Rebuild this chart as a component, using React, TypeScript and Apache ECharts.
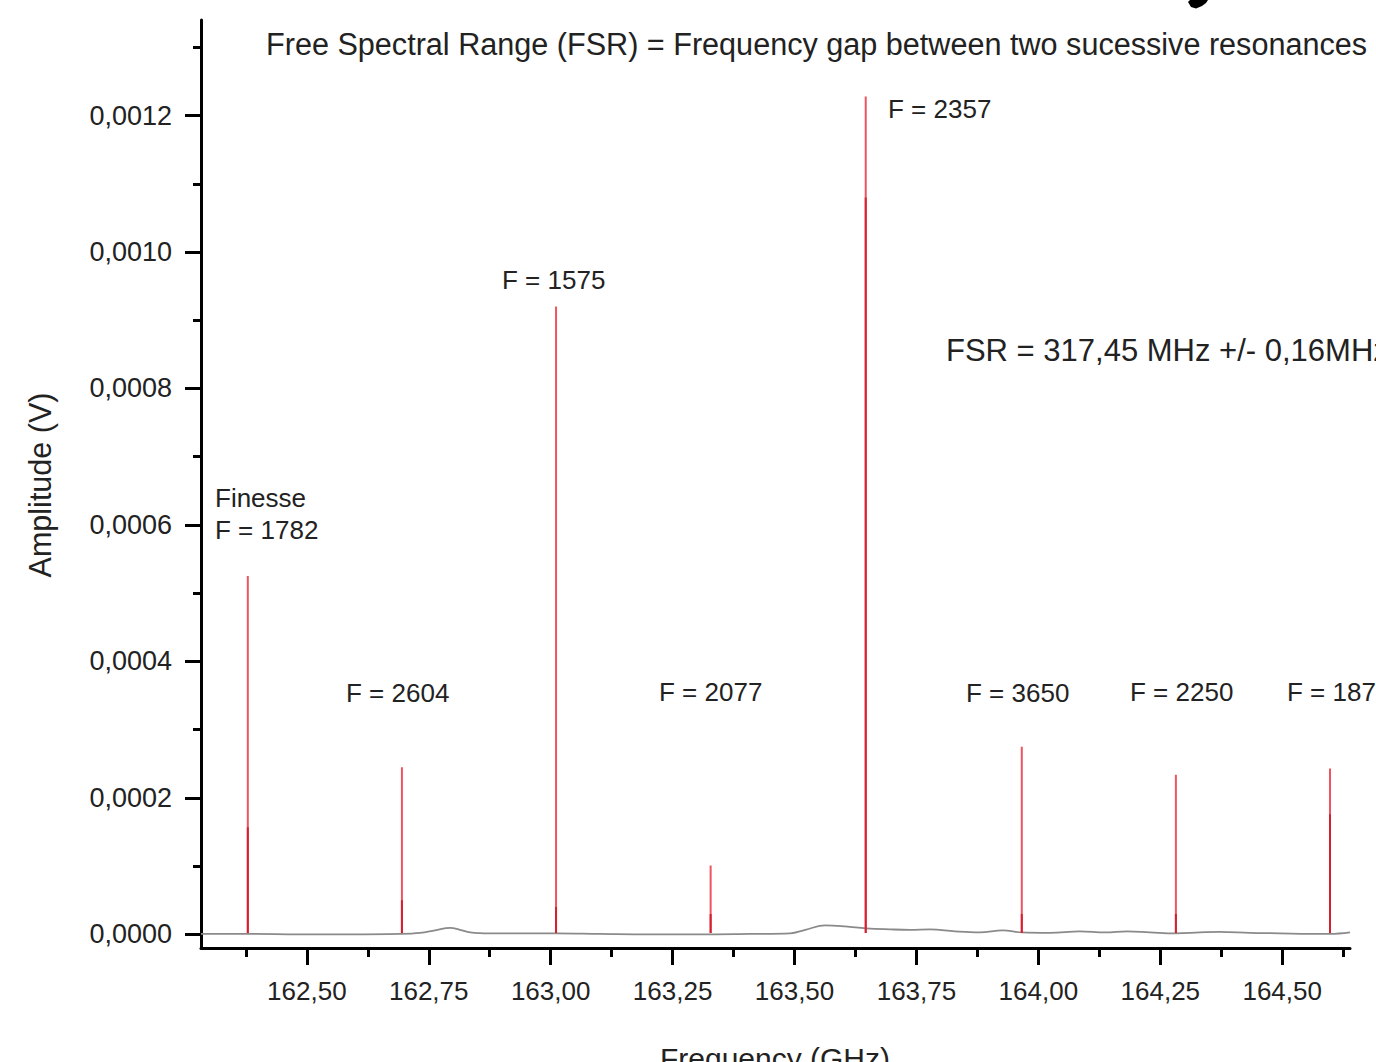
import React, { useEffect, useRef } from "react";
import * as echarts from "echarts";

// ---- data ----
const peakFreq = [162.379, 162.695, 163.011, 163.328, 163.646, 163.966, 164.282, 164.598];
const peakAmp = [0.000525, 0.000245, 0.00092, 0.000101, 0.001228, 0.000275, 0.000234, 0.000243];
const peakCoreAmp = [0.000157, 0.00005, 0.00004, 0.00003, 0.00108, 0.00003, 0.00003, 0.000176];
const peakBase = 0.000002;

const baseFreq = [
  162.283, 162.383, 162.486, 162.589, 162.691, 162.732, 162.763, 162.794, 162.814, 162.835,
  162.876, 162.937, 163.011, 163.101, 163.204, 163.306, 163.409, 163.491, 163.522, 163.563,
  163.604, 163.647, 163.696, 163.737, 163.778, 163.829, 163.88, 163.927, 163.966, 164.024,
  164.085, 164.137, 164.182, 164.229, 164.282, 164.331, 164.372, 164.434, 164.495, 164.557,
  164.598, 164.639,
];
const baseAmp = [
  0.0000007, 0.0000007, 0.0, 0.0, 0.0000007, 0.0000022, 0.0000059, 0.0000095, 0.0000066, 0.0000029,
  0.0000015, 0.0000015, 0.0000015, 0.0000007, 0.0, 0.0, 0.0000007, 0.0000015, 0.0000066, 0.0000132,
  0.0000117, 0.0000088, 0.0000073, 0.0000066, 0.0000073, 0.0000044, 0.0000029, 0.0000059, 0.0000029, 0.0000022,
  0.0000044, 0.0000029, 0.0000044, 0.0000029, 0.0000015, 0.0000029, 0.0000037, 0.0000022, 0.0000015, 0.0000007,
  0.0000007, 0.0000029,
];

const yMajorTicks = [0, 0.0002, 0.0004, 0.0006, 0.0008, 0.001, 0.0012];
const yMinorTicks = [0.0001, 0.0003, 0.0005, 0.0007, 0.0009, 0.0011, 0.0013];
const xMajorTicks = [162.5, 162.75, 163.0, 163.25, 163.5, 163.75, 164.0, 164.25, 164.5];
const xMinorTicks = [162.375, 162.625, 162.875, 163.125, 163.375, 163.625, 163.875, 164.125, 164.375, 164.625];

const annotations = [
  { text: "Finesse", x: 215, y: 498, size: 26 },
  { text: "F = 1782", x: 215, y: 530, size: 26 },
  { text: "F = 2604", x: 346, y: 693, size: 26 },
  { text: "F = 1575", x: 502, y: 280, size: 26 },
  { text: "F = 2077", x: 659, y: 692, size: 26 },
  { text: "F = 2357", x: 888, y: 109, size: 26 },
  { text: "F = 3650", x: 966, y: 693, size: 26 },
  { text: "F = 2250", x: 1130, y: 692, size: 26 },
  { text: "F = 1870", x: 1287, y: 692, size: 26 },
  { text: "FSR = 317,45 MHz +/- 0,16MHz", x: 946, y: 350, size: 31 },
];
const titleText = "Free Spectral Range (FSR) = Frequency gap between two sucessive resonances";

const FONT = "'Liberation Sans', Arial, sans-serif";
const TEXT_COLOR = "#222";

export default function App() {
  const ref = useRef<HTMLDivElement>(null);
  useEffect(() => {
    if (!ref.current) return;
    const chart = echarts.init(ref.current, undefined, { renderer: "svg" });

    const peakData: any[] = [];
    const coreData: any[] = [];
    peakFreq.forEach((f, i) => {
      peakData.push([f, peakBase], [f, peakAmp[i]], [f, peakBase], "-");
      coreData.push([f, peakBase], [f, peakCoreAmp[i]], [f, peakBase], "-");
    });
    const baseData = baseFreq.map((f, i) => [f, baseAmp[i]]);

    const xMin = 162.283;
    const xMax = 164.639;
    const yMin = -0.00002;
    const yMax = 0.00134;

    const axisLineStyle = { color: "#000", width: 3 };

    chart.setOption({
      animation: false,
      backgroundColor: "#fff",
      grid: { left: 201, right: 26, top: 20, bottom: 114, containLabel: false },
      xAxis: [
        {
          type: "value",
          min: xMin,
          max: xMax,
          axisLine: { show: true, onZero: false, lineStyle: axisLineStyle },
          axisTick: { show: true, inside: false, length: 17, lineStyle: { color: "#000", width: 3 }, customValues: xMajorTicks },
          axisLabel: {
            show: true,
            customValues: xMajorTicks,
            margin: 30,
            fontFamily: FONT,
            fontSize: 26,
            color: TEXT_COLOR,
            formatter: (v: number) => v.toFixed(2).replace(".", ","),
          },
          splitLine: { show: false },
        },
        {
          type: "value",
          min: xMin,
          max: xMax,
          position: "bottom",
          axisLine: { show: false, onZero: false },
          axisTick: { show: true, inside: false, length: 9, lineStyle: { color: "#000", width: 3 }, customValues: xMinorTicks },
          axisLabel: { show: false },
          splitLine: { show: false },
        },
      ],
      yAxis: [
        {
          type: "value",
          min: yMin,
          max: yMax,
          axisLine: { show: true, onZero: false, lineStyle: axisLineStyle },
          axisTick: { show: true, inside: false, length: 16, lineStyle: { color: "#000", width: 3 }, customValues: yMajorTicks },
          axisLabel: {
            show: true,
            customValues: yMajorTicks,
            margin: 29,
            fontFamily: FONT,
            fontSize: 27,
            color: TEXT_COLOR,
            formatter: (v: number) => v.toFixed(4).replace(".", ","),
          },
          splitLine: { show: false },
        },
        {
          type: "value",
          min: yMin,
          max: yMax,
          position: "left",
          axisLine: { show: false, onZero: false },
          axisTick: { show: true, inside: false, length: 8, lineStyle: { color: "#000", width: 3 }, customValues: yMinorTicks },
          axisLabel: { show: false },
          splitLine: { show: false },
        },
      ],
      series: [
        {
          type: "line",
          name: "baseline",
          data: baseData,
          showSymbol: false,
          symbol: "none",
          smooth: 0.4,
          lineStyle: { color: "#8a8a8a", width: 1.8 },
          z: 2,
        },
        {
          type: "line",
          name: "peaks",
          data: peakData,
          showSymbol: false,
          symbol: "none",
          connectNulls: false,
          lineStyle: { color: "#ef5560", width: 2 },
          z: 3,
        },
        {
          type: "line",
          name: "peaksCore",
          data: coreData,
          showSymbol: false,
          symbol: "none",
          connectNulls: false,
          lineStyle: { color: "#d52030", width: 2 },
          z: 4,
        },
      ],
      graphic: [
        ...annotations.map((a) => ({
          type: "text",
          x: a.x,
          y: a.y,
          style: {
            text: a.text,
            fontFamily: FONT,
            fontSize: a.size,
            fill: TEXT_COLOR,
            textAlign: "left",
            textVerticalAlign: "middle",
          },
        })),
        {
          type: "text",
          x: 266,
          y: 44,
          style: {
            text: titleText,
            fontFamily: FONT,
            fontSize: 30.6,
            fill: TEXT_COLOR,
            textAlign: "left",
            textVerticalAlign: "middle",
          },
        },
        {
          type: "text",
          x: 40,
          y: 485,
          rotation: Math.PI / 2,
          style: {
            text: "Amplitude (V)",
            fontFamily: FONT,
            fontSize: 30.5,
            fill: TEXT_COLOR,
            textAlign: "center",
            textVerticalAlign: "middle",
          },
        },
        {
          type: "text",
          x: 775,
          y: 1058,
          style: {
            text: "Frequency (GHz)",
            fontFamily: FONT,
            fontSize: 30,
            fill: TEXT_COLOR,
            textAlign: "center",
            textVerticalAlign: "middle",
          },
        },
        {
          type: "polygon",
          shape: {
            points: [
              [1188, 2], [1190, 0], [1208, 0], [1206, 3], [1202, 6], [1196, 8.5], [1191, 7],
            ],
          },
          style: { fill: "#000" },
        },
      ],
    });
    return () => chart.dispose();
  }, []);

  return (
    <div
      ref={ref}
      style={{ position: "absolute", left: 0, top: 0, width: 1376, height: 1062, background: "#fff" }}
    />
  );
}
